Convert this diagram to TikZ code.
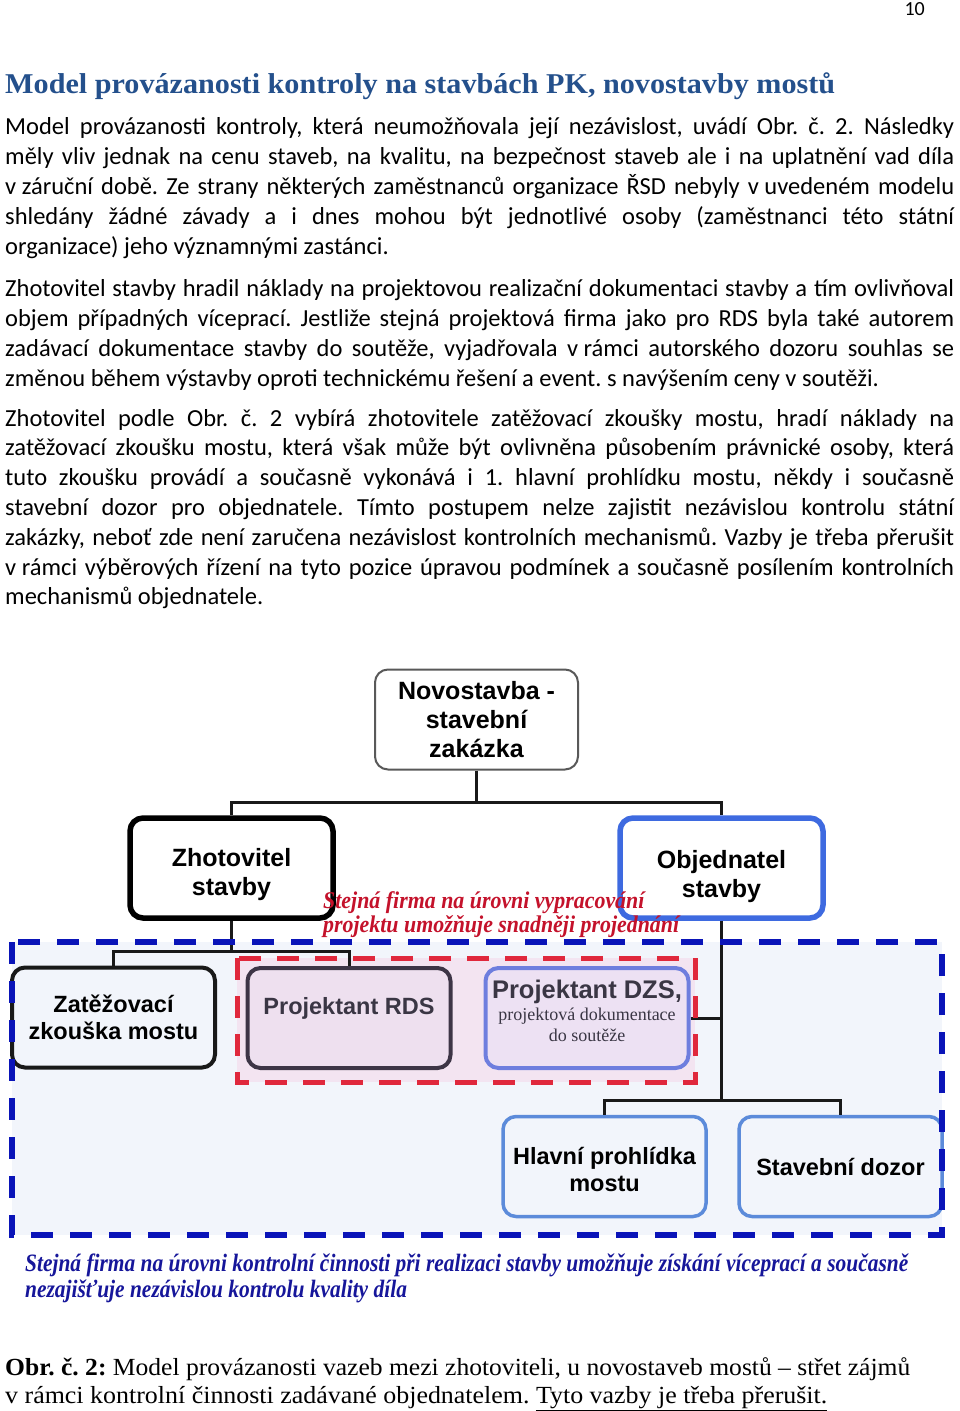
\documentclass[tikz,border=0pt]{standalone}
\usepackage{fontspec}
\usepackage{graphicx}
\setmainfont{Carlito}
\newfontfamily\boxfont{Liberation Sans}
\newfontfamily\headfont{Liberation Serif}

\definecolor{headblue}{HTML}{24508C}
\definecolor{areablue}{HTML}{F2F5FB}
\definecolor{arealine}{HTML}{0A14B8}
\definecolor{pinkfill}{HTML}{F3E4F1}
\definecolor{pinkline}{HTML}{E0283C}
\definecolor{notered}{HTML}{C4122B}
\definecolor{noteblue}{HTML}{16169A}
\definecolor{objblue}{HTML}{3E6AE0}
\definecolor{lightblue}{HTML}{5C8BDA}
\definecolor{rdsline}{HTML}{3D3546}
\definecolor{rdsfill}{HTML}{EEE0EF}
\definecolor{rdstext}{HTML}{3A3644}
\definecolor{dzsline}{HTML}{6E7EDE}
\definecolor{dzsfill}{HTML}{EDE1F3}

\newcommand{\boxlines}[2][0pt]{\raisebox{\dimexpr#1-3.5pt\relax}[\height][\depth]{\begin{tabular}{@{}c@{}}#2\end{tabular}}}

\begin{document}
\begin{tikzpicture}[x=1pt,y=-1pt,
    bodyline/.style={anchor=base west,inner sep=0pt,font=\fontsize{24.5}{30}\selectfont\frenchspacing},
    box/.style={rounded corners=13pt,minimum width=203pt,minimum height=100pt,align=center,inner sep=0pt,
        font=\boxfont\bfseries\fontsize{23.5}{27}\selectfont},
    bigbox/.style={box,font=\boxfont\bfseries\fontsize{25}{29}\selectfont},
    link/.style={line width=3pt,black!90},
    note/.style={anchor=north west,inner sep=0pt,font=\headfont\bfseries\itshape\fontsize{24}{24}\selectfont\frenchspacing}]
    \useasboundingbox (0,0) rectangle (960,1411);

    \node[anchor=base east,inner sep=0pt,font=\fontsize{20}{20}\selectfont] (page) at (925,15) {10};
    \node[anchor=base west,inner sep=0pt,text=headblue,font=\headfont\bfseries\fontsize{28.7}{30}\selectfont] (title) at (5,93)
        {\resizebox{830pt}{\height}{Model provázanosti kontroly na stavbách PK, novostavby mostů}};

    \foreach \bodytext [count=\i from 0] in {
        {Model provázanosti kontroly, která neumožňovala její nezávislost, uvádí Obr. č. 2. Následky},
        {měly vliv jednak na cenu staveb, na kvalitu, na bezpečnost staveb ale i na uplatnění vad díla},
        {\mbox{v záruční} době. Ze strany některých zaměstnanců organizace ŘSD nebyly \mbox{v uvedeném} modelu},
        {shledány žádné závady a i dnes mohou být jednotlivé osoby (zaměstnanci této státní},
        {organizace) jeho významnými zastánci.\hfill}}
        \node[bodyline] (pa\i) at (5,134+30*\i) {\makebox[949pt][s]{\bodytext}};
    \foreach \bodytext [count=\i from 0] in {
        {Zhotovitel stavby hradil náklady na projektovou realizační dokumentaci stavby a tím ovlivňoval},
        {objem případných víceprací. Jestliže stejná projektová firma jako pro RDS byla také autorem},
        {zadávací dokumentace stavby do soutěže, vyjadřovala \mbox{v rámci} autorského dozoru souhlas se},
        {změnou během výstavby oproti technickému řešení a event. s navýšením ceny v soutěži.\hfill}}
        \node[bodyline] (pb\i) at (5,296+30*\i) {\makebox[949pt][s]{\bodytext}};
    \foreach \bodytext [count=\i from 0] in {
        {Zhotovitel podle Obr. č. 2 vybírá zhotovitele zatěžovací zkoušky mostu, hradí náklady na},
        {zatěžovací zkoušku mostu, která však může být ovlivněna působením právnické osoby, která},
        {tuto zkoušku provádí a současně vykonává i 1. hlavní prohlídku mostu, někdy i současně},
        {stavební dozor pro objednatele. Tímto postupem nelze zajistit nezávislou kontrolu státní},
        {zakázky, neboť zde není zaručena nezávislost kontrolních mechanismů. Vazby je třeba přerušit},
        {\mbox{v rámci} výběrových řízení na tyto pozice úpravou podmínek a současně posílením kontrolních},
        {mechanismů objednatele.\hfill}}
        \node[bodyline] (pc\i) at (5,426+29.8*\i) {\makebox[949pt][s]{\bodytext}};

    \fill[areablue] (12,942) rectangle (942,1235);
    \fill[pinkfill] (237,958) rectangle (695,1082);

    \node[bigbox,draw=gray!70!black,line width=2pt,fill=white] (novo) at (476.5,719.5) {\boxlines{Novostavba -\\stavební\\zakázka}};
    \node[bigbox,draw=black,line width=5.5pt,fill=white] (zhot) at (231.5,868) {\boxlines[-4pt]{Zhotovitel\\stavby}};
    \node[bigbox,draw=objblue,line width=5.5pt,fill=white] (obj) at (721.5,868) {\boxlines[-6pt]{Objednatel\\stavby}};
    \node[box,draw=black!90,line width=4pt,fill=areablue] (zat) at (113.5,1017.5) {\boxlines{Zatěžovací\\zkouška mostu}};
    \node[box,draw=rdsline,line width=4pt,fill=rdsfill,text=rdstext] (rds) at (349,1018) {\boxlines[12pt]{Projektant RDS}};
    \node[box,draw=dzsline,line width=4pt,fill=dzsfill,text=rdstext] (dzs) at (587,1018)
        {\boxlines[7pt]{{\fontsize{25.5}{27}\selectfont Projektant DZS,}\\[-5pt]{\headfont\mdseries\fontsize{18}{20}\selectfont projektová dokumentace}\\[-6pt]{\headfont\mdseries\fontsize{18}{20}\selectfont do soutěže}}};
    \node[box,draw=lightblue,line width=3.5pt,fill=areablue] (hlav) at (604.5,1166.5) {\boxlines[-3pt]{Hlavní prohlídka\\mostu}};
    \node[box,draw=lightblue,line width=3.5pt,fill=areablue] (stav) at (840.5,1166.5) {\boxlines{Stavební dozor}};

    \draw[link] (novo.south) -- ++(0,32) coordinate (split) -| (zhot.north);
    \draw[link] (split) -| (obj.north);
    \draw[link] (zhot.south) -- ++(0,31) coordinate (split2) -| (zat.north);
    \draw[link] (split2) -| (rds.north);
    \draw[link] (obj.south) -- ++(0,180) coordinate (split3) -| (hlav.north);
    \draw[link] (split3) -| (stav.north);
    \draw[link] (dzs.east) -- (dzs.east -| obj.south);

    \draw[arealine,line width=6pt,dash pattern=on 22pt off 17pt] (12,942) rectangle (942,1235);
    \draw[pinkline,line width=5pt,dash pattern=on 22pt off 16pt] (237,958) rectangle (695,1082);

    \node[note,text=notered] (samedesign) at (323,891)
        {\resizebox{356pt}{\height}{\begin{tabular}{@{}l@{}}Stejná firma na úrovni vypracování\\projektu umožňuje snadněji projednání\end{tabular}}};
    \node[note,text=noteblue,font=\headfont\bfseries\itshape\fontsize{25}{26}\selectfont] (samecheck) at (25,1253)
        {\resizebox{883pt}{\height}{\begin{tabular}{@{}l@{}}Stejná firma na úrovni kontrolní činnosti při realizaci stavby umožňuje získání víceprací a současně\\nezajišťuje nezávislou kontrolu kvality díla\end{tabular}}};

    \node[anchor=base west,inner sep=0pt,font=\headfont\fontsize{24.6}{28}\selectfont\frenchspacing] (cap1) at (5,1375)
        {\resizebox{905pt}{\height}{\textbf{Obr. č. 2:} Model provázanosti vazeb mezi zhotoviteli, u novostaveb mostů – střet zájmů}};
    \node[anchor=base west,inner sep=0pt,font=\headfont\fontsize{24.6}{28}\selectfont\frenchspacing] (cap2) at (5,1403)
        {\resizebox{822pt}{\height}{v rámci kontrolní činnosti zadávané objednatelem. \underline{Tyto vazby je třeba přerušit.}}};
\end{tikzpicture}
\end{document}
